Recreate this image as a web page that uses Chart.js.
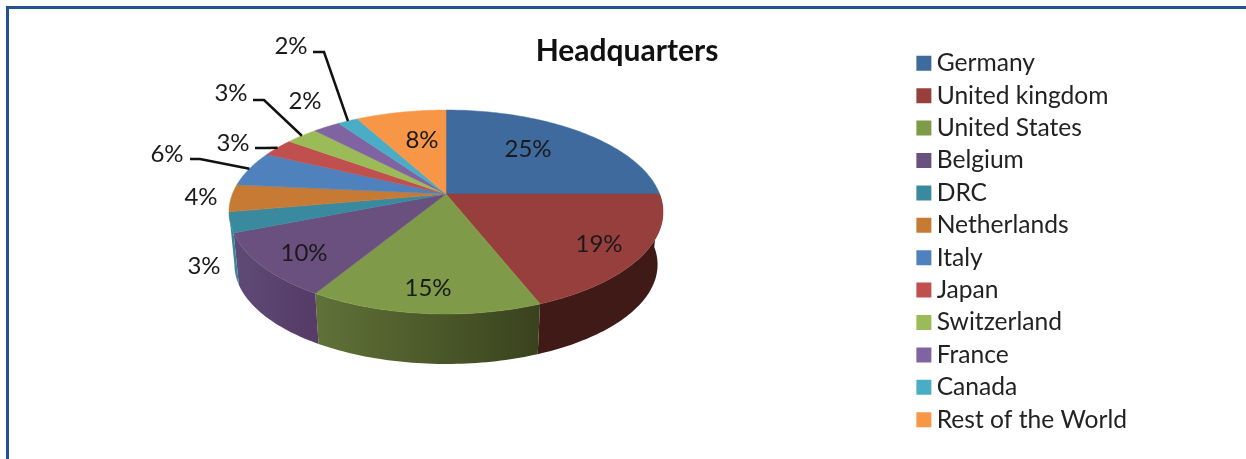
<!DOCTYPE html>
<html>
<head>
<meta charset="utf-8">
<title>Headquarters</title>
<script src="https://cdn.jsdelivr.net/npm/chart.js@4"></script>
<style>
  html, body { margin: 0; padding: 0; background: #fff; overflow: hidden; }
  #frame { position: absolute; left: 6px; top: 6px; width: 1237px; height: 470px;
           border-top: 3px solid #22528f; border-left: 3px solid #22528f; border-right: 1px solid #7f9fc4; }
  #miGrafico { position: absolute; left: 0; top: 0; }
</style>
</head>
<body>
<div id="frame"></div>
<canvas id="miGrafico" width="1246" height="459"></canvas>
<script>
const categories = ['Germany', 'United kingdom', 'United States', 'Belgium', 'DRC', 'Netherlands',
  'Italy', 'Japan', 'Switzerland', 'France', 'Canada', 'Rest of the World'];
const shares = [25, 19, 14.7, 10.3, 3.2, 4.3, 5.6, 2.9, 2.85, 2.4, 1.8, 7.95];
const colors = ['#3e6a9e', '#973f3c', '#7f9a48', '#69507f', '#3a8a9f', '#c77a34',
  '#4f81bd', '#c0504d', '#9bbb59', '#8064a2', '#4bacc6', '#f79646'];

// side wall colours, [left, right], only the slices facing us
const rimColors = {
  1: ['#3f1a17', '#3f1a17'],
  2: ['#5f7238', '#3a421d'],
  3: ['#5f4a77', '#553b66'],
  4: ['#37879b', '#37879b']
};

// where each percent goes
const labelSpots = [[528, 149], [599, 244], [428, 288], [304, 253], [204, 266], [201, 197],
  [167, 154], [233, 143], [231, 93], [305, 101], [291, 46], [422, 140]];
// leader lines: start and elbow, the end comes from the slice
const leaders = {
  6: [[190, 159], [200, 159]],
  7: [[255, 148], [266, 148]],
  8: [[253, 100], [264, 100]],
  10: [[313, 52], [324, 52]]
};

// tilted view of the pie
const view = { x: 446, y: 194, rx: 213.6, ry: 98.8, persp: 0.1765, depth: 53, shrink: 0.975 };

function topPoint(a) {
  const u = Math.cos(a), v = Math.sin(a), w = 1 - view.persp * v;
  return [view.x + view.rx * u / w, view.y + view.ry * v / w];
}
function bottomPoint(a) {
  const p = topPoint(a);
  return [view.x + (p[0] - view.x) * view.shrink, view.y + view.depth + (p[1] - view.y) * view.shrink];
}
function steps(start, end) {
  const out = [], n = Math.max(2, Math.ceil((end - start) / 0.02));
  for (let i = 0; i <= n; i++) out.push(start + (end - start) * i / n);
  return out;
}

const pie3d = {
  id: 'pie3d',
  beforeDatasetDraw(chart, args) {
    const ctx = chart.ctx;
    const arcs = args.meta.data;

    // walls first
    arcs.forEach(function (arc, i) {
      const rim = rimColors[i];
      if (!rim) return;
      const angles = steps(arc.startAngle, arc.endAngle);
      const tops = angles.map(topPoint), bottoms = angles.map(bottomPoint).reverse();
      const pts = tops.concat(bottoms);
      const xs = pts.map(function (p) { return p[0]; });
      const grad = ctx.createLinearGradient(Math.min.apply(null, xs), 0, Math.max.apply(null, xs), 0);
      grad.addColorStop(0, rim[0]);
      grad.addColorStop(1, rim[1]);
      ctx.beginPath();
      pts.forEach(function (p, k) { if (k) ctx.lineTo(p[0], p[1]); else ctx.moveTo(p[0], p[1]); });
      ctx.closePath();
      ctx.fillStyle = grad;
      ctx.fill();
    });

    // top face
    arcs.forEach(function (arc, i) {
      ctx.beginPath();
      ctx.moveTo(view.x, view.y);
      steps(arc.startAngle, arc.endAngle).map(topPoint).forEach(function (p) { ctx.lineTo(p[0], p[1]); });
      ctx.closePath();
      ctx.fillStyle = colors[i];
      ctx.strokeStyle = colors[i];
      ctx.lineWidth = 0.5;
      ctx.fill();
      ctx.stroke();
    });

    // leader lines
    ctx.strokeStyle = '#111';
    ctx.lineWidth = 2.5;
    Object.keys(leaders).forEach(function (i) {
      const arc = arcs[i];
      const end = topPoint((arc.startAngle + arc.endAngle) / 2);
      ctx.beginPath();
      ctx.moveTo(leaders[i][0][0], leaders[i][0][1]);
      ctx.lineTo(leaders[i][1][0], leaders[i][1][1]);
      ctx.lineTo(end[0], end[1]);
      ctx.stroke();
    });

    // percent labels
    const total = shares.reduce(function (a, b) { return a + b; }, 0);
    ctx.font = '24px Lato';
    ctx.fillStyle = '#1a1a1a';
    ctx.textAlign = 'center';
    ctx.textBaseline = 'middle';
    shares.forEach(function (s, i) {
      ctx.fillText(Math.round(s / total * 100) + '%', labelSpots[i][0], labelSpots[i][1]);
    });
    return false;
  }
};

document.addEventListener('DOMContentLoaded', function () {
  const ctx = document.getElementById('miGrafico').getContext('2d');
  new Chart(ctx, {
    type: 'pie',
    data: {
      labels: categories,
      datasets: [{ data: shares, backgroundColor: colors, borderWidth: 0 }]
    },
    options: {
      responsive: false,
      animation: false,
      layout: { padding: { left: 117, right: 109, top: 24, bottom: 0 } },
      plugins: {
        title: {
          display: true,
          text: 'Headquarters',
          color: '#111',
          font: { family: 'Lato', size: 30, weight: 'bold' },
          padding: { top: 9, bottom: 0 }
        },
        legend: {
          position: 'right',
          labels: {
            color: '#222',
            font: { family: 'Lato', size: 24.6 },
            usePointStyle: true,
            pointStyle: 'rect',
            boxWidth: 1,
            boxHeight: 15,
            padding: 7.8
          }
        },
        tooltip: { enabled: false }
      }
    },
    plugins: [pie3d]
  });
});
</script>
</body>
</html>
